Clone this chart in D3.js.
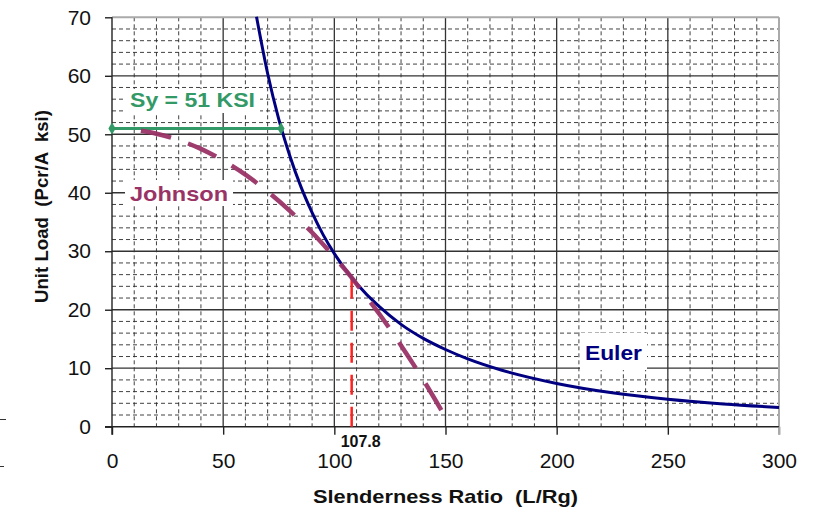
<!DOCTYPE html>
<html><head><meta charset="utf-8">
<script src="https://cdn.jsdelivr.net/npm/d3@7/dist/d3.min.js"></script>
<style>body{margin:0;background:#fff}svg{display:block}text{white-space:pre}</style>
</head><body>
<svg id="c" width="815" height="513"></svg>
<script>
// ---- data ----
const eulerSR   = [65, 70, 75, 80, 85, 90, 95, 100, 107.8, 110, 120, 130, 140, 150, 160, 175, 200, 225, 250, 275, 300];
const eulerLoad = [70.1, 60.4, 52.6, 46.3, 41.0, 36.6, 32.8, 29.6, 25.5, 24.5, 20.6, 17.5, 15.1, 13.2, 11.6, 9.7, 7.4, 5.8, 4.7, 3.9, 3.3];
const johnsonSR   = [13, 20, 30, 40, 50, 60, 70, 80, 90, 100, 107.8, 110, 120, 130, 140, 150];
const johnsonLoad = [50.6, 50.1, 49.0, 47.5, 45.5, 43.1, 40.2, 36.9, 33.2, 29.0, 25.5, 24.4, 19.4, 13.9, 8.0, 1.6];
const yieldSR   = [0, 76];
const yieldLoad = [51, 51];
const tangentSR   = [107.8, 107.8];
const tangentLoad = [0, 25.5];
const xTicks = [0, 50, 100, 150, 200, 250, 300];
const yTicks = [0, 10, 20, 30, 40, 50, 60, 70];
const xTitle = "Slenderness Ratio  (L/Rg)";
const yTitle = "Unit Load  (Pcr/A  ksi)";
const labels = {sy: "Sy = 51 KSI", johnson: "Johnson", euler: "Euler", tangent: "107.8"};

// ---- drawing ----
const svg = d3.select("#c");
const FONT = "'Liberation Sans', Arial, Helvetica, sans-serif";
const x = d3.scaleLinear().domain([0, 300]).range([112, 779]);
const y = d3.scaleLinear().domain([0, 70]).range([426.7, 17.3]);
const NAVY = "#000080", PLUM = "#993366", GREEN = "#339966", RED = "#ff2020";

const g = svg.append("g");
// minor grid
const xMinor = d3.range(10, 300, 10).filter(v => v % 50 !== 0);
const yMinor = d3.range(2, 70, 2).filter(v => v % 10 !== 0);
g.selectAll(".vm").data(xMinor).join("line")
  .attr("x1", d => x(d)).attr("x2", d => x(d)).attr("y1", y(70)).attr("y2", y(0))
  .attr("stroke", "#222").attr("stroke-width", 1).attr("stroke-dasharray", "4,3").attr("opacity", 0.85);
g.selectAll(".hm").data(yMinor).join("line")
  .attr("x1", x(0)).attr("x2", x(300)).attr("y1", d => y(d)).attr("y2", d => y(d))
  .attr("stroke", "#222").attr("stroke-width", 1).attr("stroke-dasharray", "4,3").attr("opacity", 0.85);
// major grid
g.selectAll(".vM").data(xTicks.filter(v => v > 0 && v < 300)).join("line")
  .attr("x1", d => x(d)).attr("x2", d => x(d)).attr("y1", y(70)).attr("y2", y(0))
  .attr("stroke", "#333").attr("stroke-width", 1.3);
g.selectAll(".hM").data(yTicks.filter(v => v > 0 && v < 70)).join("line")
  .attr("x1", x(0)).attr("x2", x(300)).attr("y1", d => y(d)).attr("y2", d => y(d))
  .attr("stroke", "#333").attr("stroke-width", 1.3);
// plot border (top / right)
g.append("line").attr("x1", x(0)).attr("x2", x(300)).attr("y1", y(70)).attr("y2", y(70))
  .attr("stroke", "#aaa").attr("stroke-width", 2);
g.append("line").attr("x1", x(300)).attr("x2", x(300)).attr("y1", y(70)).attr("y2", y(0) + 8)
  .attr("stroke", "#aaa").attr("stroke-width", 2);

// axes
const xAxis = d3.axisBottom(x).tickValues(xTicks).tickSize(8).tickPadding(18).tickFormat(d3.format("d"));
const yAxis = d3.axisLeft(y).tickValues(yTicks).tickSize(7).tickPadding(14).tickFormat(d3.format("d"));
const gx = svg.append("g").attr("transform", `translate(0,${y(0)})`).call(xAxis);
const gy = svg.append("g").attr("transform", `translate(${x(0)},0)`).call(yAxis);
[gx, gy].forEach(a => {
  a.select(".domain").attr("stroke", "#222").attr("stroke-width", 1.4);
  a.selectAll(".tick line").attr("stroke", "#222").attr("stroke-width", 1.4);
  a.selectAll(".tick text").attr("fill", "#111").style("font-family", FONT).style("font-size", "21px");
});
gx.select(".domain").attr("d", `M${x(0) - 7},0H${x(300)}`);
gx.selectAll(".tick").filter(d => d === 300).select("line").attr("stroke", "#aaa").attr("stroke-width", 2);
gy.select(".domain").attr("d", `M0,${y(70)}V${y(0) + 8}`);

// axis titles
svg.append("text").attr("x", 445.5).attr("y", 503).attr("text-anchor", "middle")
  .style("font-family", FONT).style("font-size", "19px").style("font-weight", "bold")
  .attr("fill", "#111").attr("textLength", 265).attr("lengthAdjust", "spacingAndGlyphs").text(xTitle);
svg.append("text").attr("transform", "translate(48,206.5) rotate(-90)").attr("text-anchor", "middle")
  .style("font-family", FONT).style("font-size", "18.5px").style("font-weight", "bold")
  .attr("fill", "#111").attr("textLength", 193).attr("lengthAdjust", "spacingAndGlyphs").text(yTitle);

// label boxes
function boxLabel(txt, bx, by, bw, bh, tx, ty, color, size, len) {
  svg.append("rect").attr("x", bx).attr("y", by).attr("width", bw).attr("height", bh).attr("fill", "#fff");
  svg.append("text").attr("x", tx).attr("y", ty)
    .style("font-family", FONT).style("font-size", size + "px").style("font-weight", "bold")
    .attr("fill", color).attr("textLength", len).attr("lengthAdjust", "spacingAndGlyphs").text(txt);
}
boxLabel(labels.sy, 124, 89, 136, 24, 130, 106.5, GREEN, 21, 125);
boxLabel(labels.johnson, 125, 180, 108, 26, 130, 201, PLUM, 21, 98);
boxLabel(labels.euler, 580, 333, 67, 37, 585, 360, NAVY, 20, 57);

// tangent marker line
const lineXY = d3.line().x(d => x(d[0])).y(d => y(d[1]));
svg.append("path").datum(d3.zip(tangentSR, tangentLoad)).attr("d", lineXY)
  .attr("fill", "none").attr("stroke", RED).attr("stroke-width", 2.5).attr("stroke-dasharray", "20,12");
svg.append("text").attr("x", x(tangentSR[0]) - 11).attr("y", 447)
  .style("font-family", FONT).style("font-size", "16px").style("font-weight", "bold")
  .attr("fill", "#111").text(labels.tangent);

// Euler curve
svg.append("path").datum(d3.zip(eulerSR, eulerLoad))
  .attr("d", d3.line().x(d => x(d[0])).y(d => y(d[1])).curve(d3.curveMonotoneX))
  .attr("fill", "none").attr("stroke", NAVY).attr("stroke-width", 3).attr("stroke-linejoin", "round");

// yield line with diamond ends
svg.append("path").datum(d3.zip(yieldSR, yieldLoad)).attr("d", lineXY)
  .attr("fill", "none").attr("stroke", GREEN).attr("stroke-width", 3);
svg.selectAll(".dm").data(d3.zip(yieldSR, yieldLoad)).join("path")
  .attr("d", d3.symbol(d3.symbolDiamond, 45))
  .attr("transform", d => `translate(${x(d[0])},${y(d[1])})`).attr("fill", GREEN);

// Johnson curve
svg.append("path").datum(d3.zip(johnsonSR, johnsonLoad))
  .attr("d", d3.line().x(d => x(d[0])).y(d => y(d[1])).curve(d3.curveMonotoneX))
  .attr("fill", "none").attr("stroke", PLUM).attr("stroke-width", 4.5)
  .attr("stroke-dasharray", "31,18").attr("opacity", 0.95);

// stray edge marks
svg.append("line").attr("x1", 0).attr("x2", 6).attr("y1", 419.5).attr("y2", 419.5).attr("stroke", "#333").attr("stroke-width", 1);
svg.append("line").attr("x1", 0).attr("x2", 4).attr("y1", 466.5).attr("y2", 466.5).attr("stroke", "#333").attr("stroke-width", 1);
</script>
</body></html>
